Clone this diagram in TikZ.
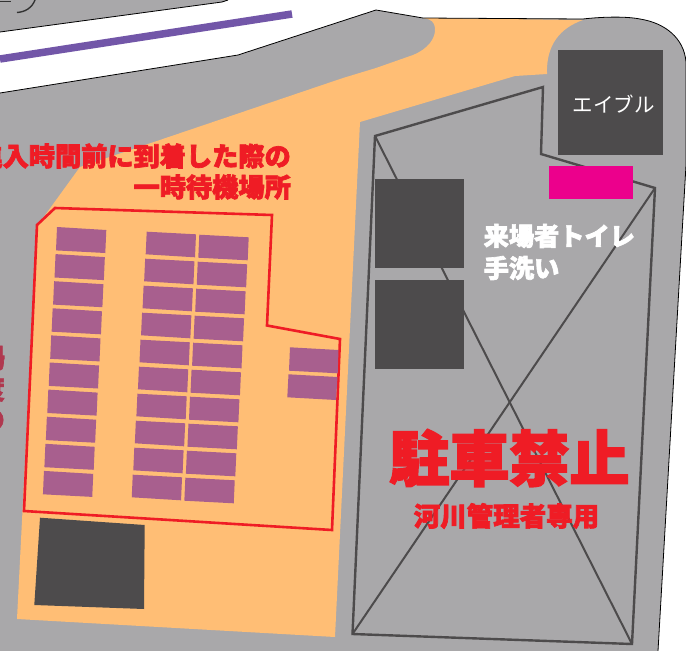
\documentclass[tikz,border=0pt]{standalone}
\usepackage{fontspec}
\newfontfamily\cjk[BoldFeatures={FakeBold=2.6}]{Noto Sans CJK JP}
\definecolor{ground}{HTML}{A9A8AA}
\definecolor{lot}{HTML}{FFBE75}
\definecolor{bay}{HTML}{A85F8E}
\definecolor{dark}{HTML}{4D4B4C}
\definecolor{signred}{HTML}{EF1C25}
\definecolor{fadedred}{HTML}{B0384F}
\definecolor{rail}{HTML}{7256A8}
\definecolor{toilet}{HTML}{EC008C}
\tikzset{
  x=1pt,y=-1pt,
  bayshape/.style={fill=bay},
  building/.style={fill=dark},
  edgeline/.style={draw=black,line width=0.8pt},
  zone/.style={draw=dark,line width=2.4pt,line join=miter},
  redtext/.style={text=signred,font=\cjk\bfseries,inner sep=0pt},
  whitetext/.style={text=white,font=\cjk\bfseries,inner sep=0pt},
  lefttext/.style={text=fadedred,font=\cjk\bfseries\fontsize{26.2}{26.2}\selectfont,inner sep=0pt,anchor=east}
}
\begin{document}
\begin{tikzpicture}
\useasboundingbox (0,0) rectangle (686,651);
\clip (0,0) rectangle (686,651);
\fill[white] (0,0) rectangle (686,651);
% upper grey piece
\fill[ground] (0,0) -- (228,0) -- (222,2) -- (0,32) -- cycle;
\draw[edgeline] (0,32) -- (222,2) -- (228,0);
\draw[line width=1.4pt,black!80] (0,1.5) -- (11,1.5);
\draw[line width=1.4pt,black!80] (17,12.5) .. controls (25,12) and (32,8) .. (35,0);
% main ground
\fill[ground] (0,93) -- (238,55) -- (376,10) -- (423,18) -- (583,19) .. controls (600,17) and (625,16) .. (640,19)
  .. controls (665,23) and (684,38) .. (686,62) -- (686,165) -- (658,651) -- (0,651) -- cycle;
% railway line
\draw[rail,line width=7.5pt] (0,59) -- (292,14);
% orange lot
\fill[lot] (43,218) -- (80,167) -- (343,78) -- (376,68) -- (413,55)
  .. controls (428,49) and (436,38) .. (435,28) .. controls (434.5,22) and (431,19) .. (423,18)
  -- (583,20) .. controls (560,28) and (546,45) .. (547,74) -- (515,76) -- (360,122)
  -- (335,637) -- (17,619) -- (37,225) -- cycle;
\draw[edgeline] (0,93) -- (238,55) -- (376,10) -- (423,18) -- (583,19) .. controls (600,17) and (625,16) .. (640,19)
  .. controls (665,23) and (684,38) .. (686,62) -- (686,165) -- (658,651);
% red boundary
\draw[signred,line width=2.6pt,line join=miter] (37,225) -- (55,208) -- (272,215) -- (267,325.5) -- (340,339) -- (332,530) -- (24,511) -- cycle;
% bays
\foreach \i in {0,...,9}{
  \fill[bayshape] (57-1.45*\i,227+27.1*\i) -- ++(49.3,3) -- ++(-1,23) -- ++(-49.3,-2.6) -- cycle;
  \fill[bayshape] (146.7-1.55*\i,231.7+27*\i) -- ++(49.3,2.6) -- ++(-1,23) -- ++(-49.3,-3) -- cycle;
  \fill[bayshape] (199.3-1.55*\i,234.7+27*\i) -- ++(49.4,2.6) -- ++(-1,23) -- ++(-49.4,-2.6) -- cycle;
}
\fill[bayshape] (290,347.3) -- (338.5,350) -- (337.7,373.3) -- (289,370.7) -- cycle;
\fill[bayshape] (288.5,374.3) -- (337.5,377) -- (336,400) -- (287.3,397.3) -- cycle;
\fill[building] (40,517.7) -- (144.7,525) -- (144,609) -- (34.3,605) -- cycle;
% no-parking zone
\draw[zone] (375,136) -- (543,87) -- (541,154) -- (655,188) -- (632,644) -- (352.5,634) -- cycle;
\draw[zone,line width=2pt] (375,136) -- (632,644);
\draw[zone,line width=2pt] (655,188) -- (352.5,634);
% buildings
\fill[building] (558,50) rectangle (663,155);
\fill[toilet] (549,166) rectangle (633,199);
\fill[building] (375,179) rectangle (464,268);
\fill[building] (375,280) rectangle (464,369);
% labels
\node[text=white,font=\cjk\fontsize{20.5}{20.5}\selectfont,inner sep=0pt] (able) at (613.5,104) {エイブル};
\node[whitetext,anchor=west,font=\cjk\bfseries\fontsize{25.2}{25.2}\selectfont] (wc1) at (483.5,236) {来場者トイレ};
\node[whitetext,anchor=west,font=\cjk\bfseries\fontsize{25.2}{25.2}\selectfont] (wc2) at (483.5,268) {手洗い};
\node[redtext,anchor=east,font=\cjk\bfseries\fontsize{26.2}{26.2}\selectfont] (wait1) at (291,156) {進入時間前に到着した際の};
\node[redtext,anchor=east,font=\cjk\bfseries\fontsize{26.2}{26.2}\selectfont] (wait2) at (291,187) {一時待機場所};
\node[redtext,font=\cjk\bfseries\fontsize{60}{60}\selectfont] (nopark) at (509.5,458) {駐車禁止};
\node[redtext,font=\cjk\bfseries\fontsize{26.5}{26.5}\selectfont] (river) at (506.5,516) {河川管理者専用};
\node[lefttext] (frag1) at (5,358) {場};
\node[lefttext] (frag2) at (5,389) {度};
\node[lefttext] (frag3) at (5,420) {の};
\end{tikzpicture}
\end{document}
